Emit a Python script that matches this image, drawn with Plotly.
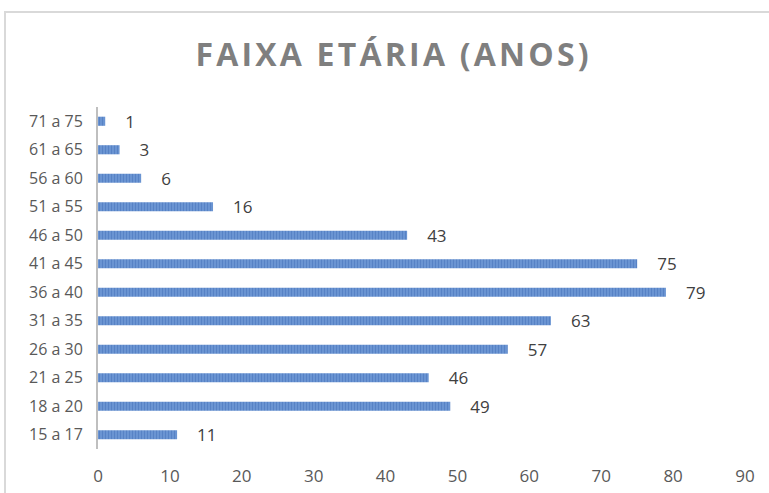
import plotly.graph_objects as go

categories = ["15 a 17", "18 a 20", "21 a 25", "26 a 30", "31 a 35", "36 a 40",
              "41 a 45", "46 a 50", "51 a 55", "56 a 60", "61 a 65", "71 a 75"]
values = [11, 49, 46, 57, 63, 79, 75, 43, 16, 6, 3, 1]
x_ticks = [0, 10, 20, 30, 40, 50, 60, 70, 80, 90]
title_text = "FAIXA ETÁRIA (ANOS)"

W, H = 769, 493
L, R, T, B = 98, 24, 107, 44
pw, ph = W - L - R, H - T - B

spaced_title = "\u200a".join(title_text)

fig = go.Figure()
fig.add_trace(go.Bar(
    y=categories, x=values, orientation="h", width=0.32,
    marker=dict(color="#6a94d2", line=dict(width=0),
                pattern=dict(shape="|", fgcolor="#4470b8", size=3, solidity=0.35)),
    text=values, texttemplate="\u2002\u2002%{x}", textposition="outside",
    constraintext="none",
    textfont=dict(family="Open Sans", size=17, color="#404040"),
    cliponaxis=False,
))

fig.update_layout(
    width=W, height=H,
    margin=dict(l=L, r=R, t=T, b=B, autoexpand=False),
    paper_bgcolor="white", plot_bgcolor="white",
    showlegend=False,
    title=dict(text=spaced_title, x=392 / W, xref="container", xanchor="center",
               y=1 - 55 / H, yref="container", yanchor="middle",
               font=dict(family="Open Sans", size=32, weight=700, color="#7f7f7f")),
    xaxis=dict(range=[0, 90], tickvals=x_ticks, showgrid=False, zeroline=False,
               showline=False, ticks="", ticklabelstandoff=15, automargin=False,
               tickfont=dict(family="Open Sans", size=17, color="#595959")),
    yaxis=dict(categoryorder="array", categoryarray=categories, range=[-0.5, 11.5],
               showgrid=False, zeroline=False, showline=True, linecolor="#bfbfbf",
               linewidth=2, ticks="", ticklabelstandoff=10, automargin=False,
               tickfont=dict(family="Open Sans", size=16, color="#595959")),
    shapes=[dict(type="rect", xref="paper", yref="paper",
                 x0=(5 - L) / pw, x1=(W + 20 - L) / pw,
                 y0=-(H + 20 - (T + ph)) / ph, y1=(T + ph - 12) / ph,
                 line=dict(color="#d9d9d9", width=2), layer="below")],
)

fig.write_html("out.html", post_script="document.body.style.margin='0';",
               config={"displayModeBar": False})
